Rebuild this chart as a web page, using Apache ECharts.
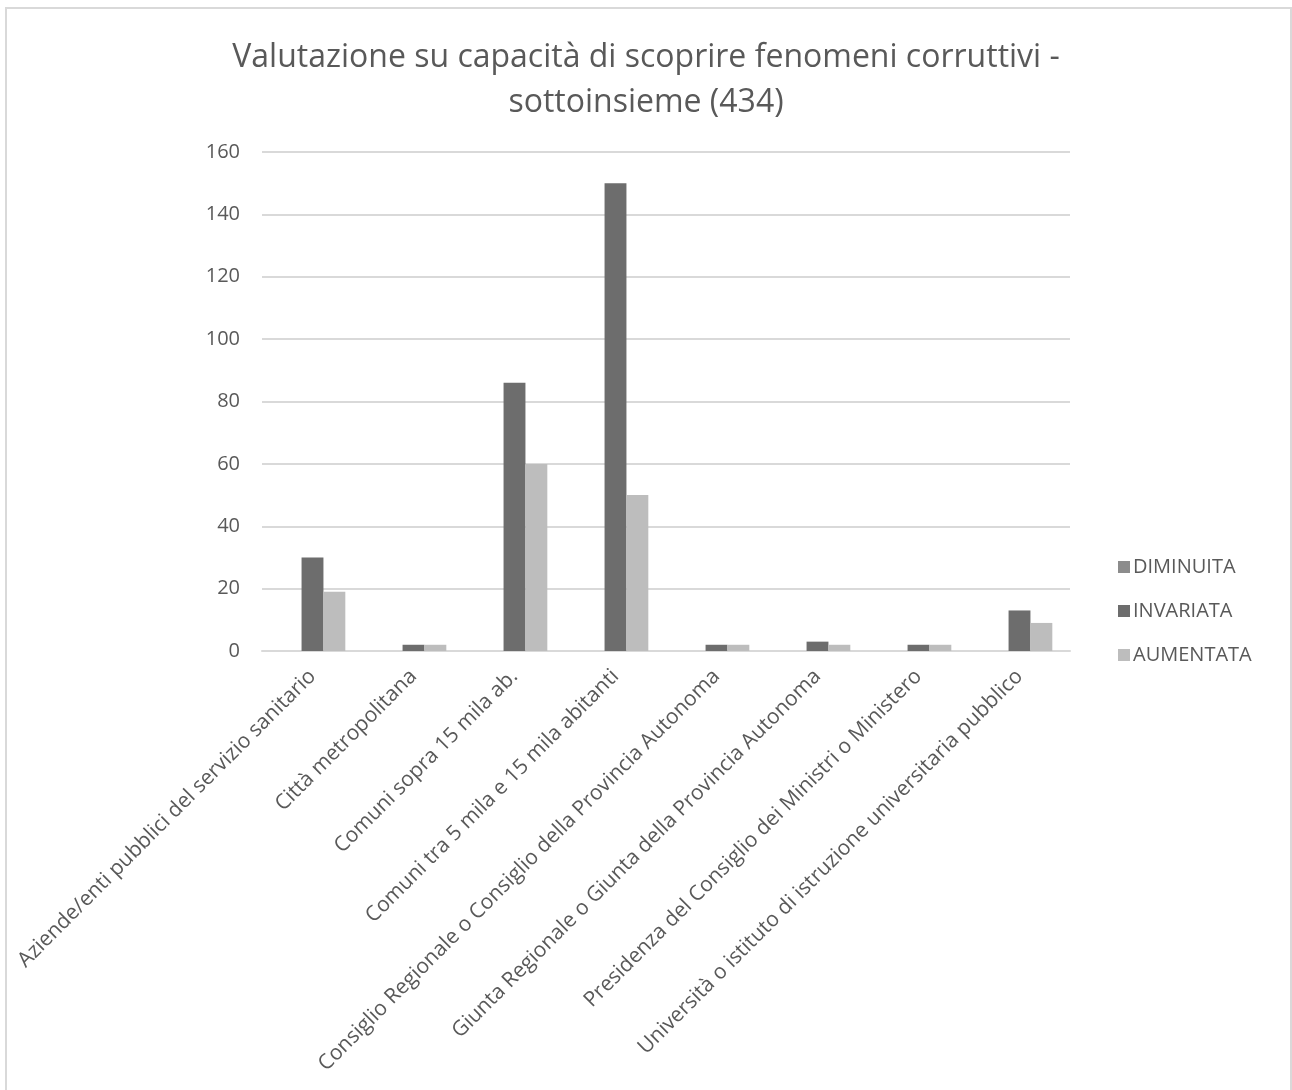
<!DOCTYPE html>
<html>
<head>
<meta charset="utf-8">
<script src="https://cdn.jsdelivr.net/npm/echarts@6/dist/echarts.min.js"></script>
<style>
html,body{margin:0;padding:0;background:#fff;}
#chart{width:1292px;height:1090px;}
</style>
</head>
<body>
<div id="chart"></div>
<script>
const categories = [
  "Aziende/enti pubblici del servizio sanitario",
  "Città metropolitana",
  "Comuni sopra 15 mila ab.",
  "Comuni tra 5 mila e 15 mila abitanti",
  "Consiglio Regionale o Consiglio della Provincia Autonoma",
  "Giunta Regionale o Giunta della Provincia Autonoma",
  "Presidenza del Consiglio dei Ministri o Ministero",
  "Università o istituto di istruzione universitaria pubblico"
];
const diminuita = [0, 0, 0, 0, 0, 0, 0, 0];
const invariata = [30, 2, 86, 150, 2, 3, 2, 13];
const aumentata = [19, 2, 60, 50, 2, 2, 2, 9];
const yTicks = { min: 0, max: 160, interval: 20 };

const FONT = "'Open Sans', 'Noto Sans', sans-serif";
const chart = echarts.init(document.getElementById('chart'), null, {renderer: 'canvas'});
chart.setOption({
  backgroundColor: '#fff',
  animation: false,
  title: {
    text: 'Valutazione su capacità di scoprire fenomeni corruttivi -\nsottoinsieme (434)',
    left: 'center',
    top: 30,
    textStyle: { fontFamily: FONT, fontSize: 32, fontWeight: 'normal', color: '#595959', lineHeight: 45 }
  },
  graphic: [{
    type: 'rect',
    shape: { x: 6, y: 8, width: 1285, height: 1100 },
    style: { fill: 'none', stroke: '#d9d9d9', lineWidth: 2 },
    silent: true
  }],
  legend: {
    orient: 'vertical',
    left: 1113,
    top: 549,
    itemWidth: 12,
    itemHeight: 12,
    itemGap: 18,
    icon: 'rect',
    itemStyle: { borderWidth: 0 },
    textStyle: { fontFamily: FONT, fontSize: 20, color: '#595959', padding: [0, 0, 0, -2], lineHeight: 26 },
    data: ['DIMINUITA', 'INVARIATA', 'AUMENTATA']
  },
  grid: { left: 262, right: 222, top: 152, bottom: 439, containLabel: false },
  xAxis: {
    type: 'category',
    data: categories,
    axisLine: { show: true, lineStyle: { color: '#d9d9d9', width: 2 } },
    axisTick: { show: false },
    axisLabel: { rotate: 45, interval: 0, fontFamily: FONT, fontSize: 21, color: '#595959', margin: 22 }
  },
  yAxis: {
    type: 'value',
    min: yTicks.min, max: yTicks.max, interval: yTicks.interval,
    axisLine: { show: false },
    axisTick: { show: false },
    splitLine: { lineStyle: { color: '#d9d9d9', width: 2 } },
    axisLabel: { fontFamily: FONT, fontSize: 20, color: '#595959', margin: 22 }
  },
  series: [
    { name: 'DIMINUITA', type: 'bar', data: diminuita, itemStyle: { color: '#8c8c8c' }, barGap: '0%', barCategoryGap: '35%' },
    { name: 'INVARIATA', type: 'bar', data: invariata, itemStyle: { color: '#6d6d6d' }, barGap: '0%', barCategoryGap: '35%' },
    { name: 'AUMENTATA', type: 'bar', data: aumentata, itemStyle: { color: '#bdbdbd' }, barGap: '0%', barCategoryGap: '35%' }
  ]
});
</script>
</body>
</html>
